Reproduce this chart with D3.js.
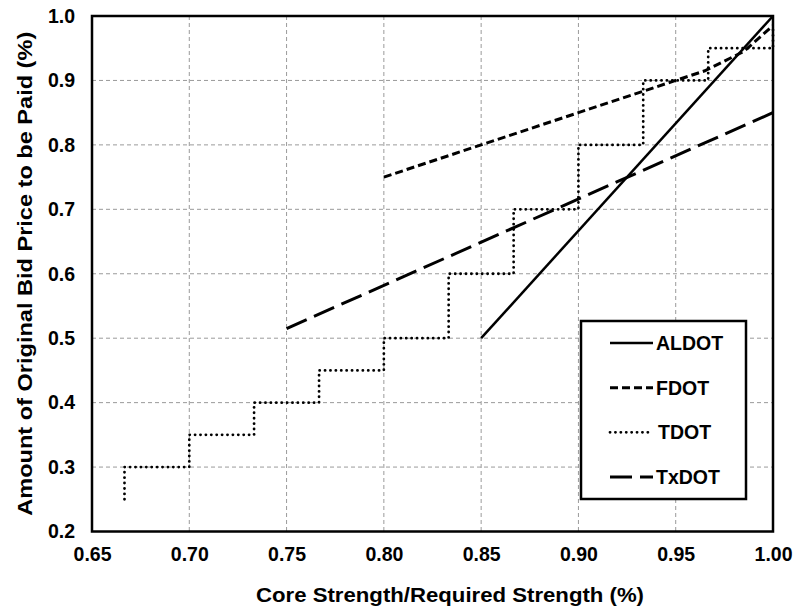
<!DOCTYPE html>
<html>
<head>
<meta charset="utf-8">
<script src="https://cdn.jsdelivr.net/npm/d3@7"></script>
<style>
  html, body { margin: 0; padding: 0; background: #fff; }
  svg text { font-family: "Liberation Sans", Arial, sans-serif; font-weight: bold; fill: #000; }
</style>
</head>
<body>
<svg id="chart" width="794" height="609"></svg>
<script>
// ---- data ----
const xTicks = [0.65, 0.70, 0.75, 0.80, 0.85, 0.90, 0.95, 1.00];
const yTicks = [0.2, 0.3, 0.4, 0.5, 0.6, 0.7, 0.8, 0.9, 1.0];

const aldotX = [0.85, 1.00];
const aldotY = [0.50, 1.00];

const fdotX = [0.80, 0.85, 0.90, 0.95, 0.965, 0.985, 1.00];
const fdotY = [0.75, 0.80, 0.85, 0.90, 0.915, 0.945, 0.985];

const tdotX = [0.6667, 0.70, 0.7333, 0.7667, 0.80, 0.8333, 0.8667, 0.90, 0.9333, 0.9667, 1.00, 1.00];
const tdotY = [0.25, 0.30, 0.35, 0.40, 0.45, 0.50, 0.60, 0.70, 0.80, 0.90, 0.95, 0.98];

const txdotX = [0.75, 1.00];
const txdotY = [0.515, 0.85];

const seriesNames = ["ALDOT", "FDOT", "TDOT", "TxDOT"];
const xTitle = "Core Strength/Required Strength (%)";
const yTitle = "Amount of Original Bid Price to be Paid (%)";

// ---- layout ----
const svg = d3.select("#chart");
const L = 92, R = 773, T = 16, B = 531.5;

const x = d3.scaleLinear().domain([0.65, 1.00]).range([L, R]);
const y = d3.scaleLinear().domain([0.2, 1.0]).range([B, T]);

// grid
const grid = svg.append("g");
grid.selectAll(".vg").data(xTicks.slice(1, -1)).enter().append("line")
  .attr("x1", d => x(d)).attr("x2", d => x(d)).attr("y1", T).attr("y2", B)
  .attr("stroke", "#9a9a9a").attr("stroke-width", 1).attr("stroke-dasharray", "4 3");
grid.selectAll(".hg").data(yTicks.slice(1, -1)).enter().append("line")
  .attr("y1", d => y(d)).attr("y2", d => y(d)).attr("x1", L).attr("x2", R)
  .attr("stroke", "#9a9a9a").attr("stroke-width", 1).attr("stroke-dasharray", "4 3");

// axes (labels only; the frame is drawn separately)
const xAxis = d3.axisBottom(x).tickValues(xTicks).tickFormat(d3.format(".2f")).tickSize(0).tickPadding(16);
const yAxis = d3.axisLeft(y).tickValues(yTicks).tickFormat(d3.format(".1f")).tickSize(0).tickPadding(17);
const gx = svg.append("g").attr("transform", `translate(0,${B})`).call(xAxis);
const gy = svg.append("g").attr("transform", `translate(${L},0)`).call(yAxis);
[gx, gy].forEach(g => {
  g.select(".domain").remove();
  g.selectAll("text").style("font-size", "19.5px").style("font-family", '"Liberation Sans", Arial, sans-serif').style("font-weight", "bold").attr("fill", "#000");
});

// series
const styles = {
  ALDOT: { dash: null, width: 2.5, cap: "butt" },
  FDOT:  { dash: "8 4", width: 3, cap: "butt" },
  TDOT:  { dash: "0.1 5.3", width: 2.8, cap: "round" },
  TxDOT: { dash: "22 8", width: 3, cap: "butt" }
};
const seriesData = {
  ALDOT: aldotX.map((v, i) => [v, aldotY[i]]),
  FDOT: fdotX.map((v, i) => [v, fdotY[i]]),
  TDOT: tdotX.map((v, i) => [v, tdotY[i]]),
  TxDOT: txdotX.map((v, i) => [v, txdotY[i]])
};
const lineLinear = d3.line().x(d => x(d[0])).y(d => y(d[1]));
const lineStep = d3.line().x(d => x(d[0])).y(d => y(d[1])).curve(d3.curveStepBefore);

const drawOrder = ["TDOT", "TxDOT", "FDOT", "ALDOT"];
drawOrder.forEach(name => {
  const s = styles[name];
  svg.append("path")
    .attr("d", (name === "TDOT" ? lineStep : lineLinear)(seriesData[name]))
    .attr("fill", "none").attr("stroke", "#000")
    .attr("stroke-width", s.width)
    .attr("stroke-dasharray", s.dash)
    .attr("stroke-linecap", s.cap);
});

// frame
svg.append("rect").attr("x", L).attr("y", T).attr("width", R - L).attr("height", B - T)
  .attr("fill", "none").attr("stroke", "#000").attr("stroke-width", 2.5);

// legend
const lg = svg.append("g");
lg.append("rect").attr("x", 581).attr("y", 321).attr("width", 165).attr("height", 178)
  .attr("fill", "#fff").attr("stroke", "#000").attr("stroke-width", 2.5);
const rowY = d3.scalePoint().domain(seriesNames).range([343, 477]);
seriesNames.forEach(name => {
  const s = styles[name];
  const yy = rowY(name);
  lg.append("line").attr("x1", 610).attr("x2", name === "TDOT" ? 648 : 653)
    .attr("y1", yy).attr("y2", yy)
    .attr("stroke", "#000").attr("stroke-width", s.width)
    .attr("stroke-dasharray", s.dash).attr("stroke-linecap", s.cap);
  lg.append("text").attr("x", name === "TDOT" ? 658 : 656).attr("y", yy)
    .attr("dominant-baseline", "central")
    .style("font-size", "19.5px").text(name);
});

// titles
svg.append("text").attr("x", 450).attr("y", 602)
  .attr("text-anchor", "middle").style("font-size", "19.5px")
  .attr("textLength", 388).attr("lengthAdjust", "spacingAndGlyphs")
  .text(xTitle);
svg.append("text").attr("transform", `translate(32,${(T + B) / 2}) rotate(-90)`)
  .attr("text-anchor", "middle").style("font-size", "21px")
  .attr("textLength", 484).attr("lengthAdjust", "spacingAndGlyphs")
  .text(yTitle);
</script>
</body>
</html>
